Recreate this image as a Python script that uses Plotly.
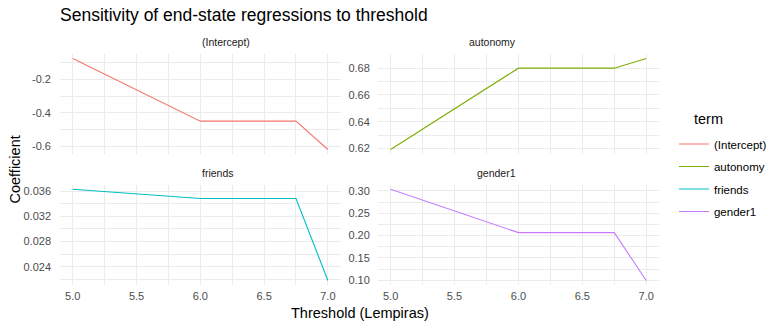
import plotly.graph_objects as go

thresholds = [5.0, 6.0, 6.75, 7.0]
terms = ["(Intercept)", "autonomy", "friends", "gender1"]
intercept_vals = [-0.074, -0.45, -0.45, -0.62]
autonomy_vals = [0.6192, 0.680, 0.680, 0.6872]
friends_vals = [0.0363, 0.03483, 0.03483, 0.02183]
gender1_vals = [0.3038, 0.2067, 0.2067, 0.0995]
colors = ["#F8766D", "#7CAE00", "#00BFC4", "#C77CFF"]

x_ticks = [5.0, 5.5, 6.0, 6.5, 7.0]
x_ticktext = ["5.0", "5.5", "6.0", "6.5", "7.0"]
y_ticks = {
    "(Intercept)": ([-0.6, -0.4, -0.2], ["-0.6", "-0.4", "-0.2"]),
    "autonomy": ([0.62, 0.64, 0.66, 0.68], ["0.62", "0.64", "0.66", "0.68"]),
    "friends": ([0.024, 0.028, 0.032, 0.036], ["0.024", "0.028", "0.032", "0.036"]),
    "gender1": ([0.10, 0.15, 0.20, 0.25, 0.30], ["0.10", "0.15", "0.20", "0.25", "0.30"]),
}
y_minor = {"(Intercept)": 0.1, "autonomy": 0.01, "friends": 0.002, "gender1": 0.025}
values = [intercept_vals, autonomy_vals, friends_vals, gender1_vals]

FONT = "Liberation Sans, Arial, sans-serif"
GRID = "#EBEBEB"

fig = go.Figure()

xdom = [[0, 0.4685], [0.5306, 1.0]]
ydom = [[0.567, 1.0], [0.0, 0.434]]

for i, (term, vals, col) in enumerate(zip(terms, values, colors)):
    r, c = divmod(i, 2)
    n = "" if i == 0 else str(i + 1)
    fig.add_trace(go.Scatter(
        x=thresholds, y=vals, mode="lines", name=term,
        line=dict(color=col, width=1.1),
        xaxis="x" + n, yaxis="y" + n, legendgroup=term,
    ))
    lo, hi = min(vals), max(vals)
    pad = (hi - lo) * 0.05
    tv, tt = y_ticks[term]
    fig.layout["xaxis" + n] = dict(
        domain=xdom[c], anchor="y" + n, range=[4.9, 7.1],
        tickvals=x_ticks, ticktext=x_ticktext, showticklabels=(r == 1),
        ticks="", showline=False, zeroline=False,
        gridcolor=GRID, gridwidth=1,
        minor=dict(dtick=0.25, tick0=5.0, showgrid=True, gridcolor=GRID, gridwidth=0.5),
        tickfont=dict(family=FONT, size=11, color="#4D4D4D"), ticklabelstandoff=3,
    )
    fig.layout["yaxis" + n] = dict(
        domain=ydom[r], anchor="x" + n, range=[lo - pad, hi + pad],
        tickvals=tv, ticktext=tt,
        ticks="", showline=False, zeroline=False,
        gridcolor=GRID, gridwidth=1,
        minor=dict(dtick=y_minor[term], tick0=tv[0] - y_minor[term], showgrid=True,
                   gridcolor=GRID, gridwidth=0.5),
        tickfont=dict(family=FONT, size=11, color="#4D4D4D"),
        ticklabelstandoff=(8 if c == 0 else 7),
    )
    fig.add_annotation(
        text=term, xref="paper", yref="paper",
        x=(xdom[c][0] + xdom[c][1]) / 2, y=ydom[r][1], yanchor="bottom", yshift=4,
        showarrow=False, font=dict(family=FONT, size=10.5, color="#1A1A1A"),
    )

fig.add_annotation(text="Coefficient", xref="paper", yref="paper", x=0, y=0.5,
                   xshift=-46, xanchor="center", yanchor="middle", textangle=-90,
                   showarrow=False, font=dict(family=FONT, size=14.5, color="#000000"))
fig.add_annotation(text="Threshold (Lempiras)", xref="paper", yref="paper", x=0.5, y=0,
                   yshift=-28, yanchor="middle", showarrow=False,
                   font=dict(family=FONT, size=14.5, color="#000000"))
fig.add_annotation(text="term", xref="paper", yref="paper", x=1, y=1,
                   xshift=697 - 664, yshift=-(119 - 54), xanchor="left", yanchor="middle",
                   showarrow=False, font=dict(family=FONT, size=14.5, color="#000000"))

fig.update_layout(
    width=784, height=328,
    margin=dict(l=60, r=120, t=54, b=43),
    paper_bgcolor="white", plot_bgcolor="white",
    title=dict(text="Sensitivity of end-state regressions to threshold",
               x=60 / 784, xref="container", xanchor="left",
               y=1 - 15 / 328, yref="container", yanchor="middle",
               font=dict(family=FONT, size=17.5, color="#000000")),
    legend=dict(x=1.025, xanchor="left", y=0.5 - 8.5 / 231, yanchor="middle",
                font=dict(family=FONT, size=11.5, color="#000000"),
                itemwidth=30, tracegroupgap=3.5, bgcolor="rgba(0,0,0,0)"),
    showlegend=True,
)

fig.write_html("out.html", config={"displayModeBar": False},
               post_script="document.body.style.margin='0';")
